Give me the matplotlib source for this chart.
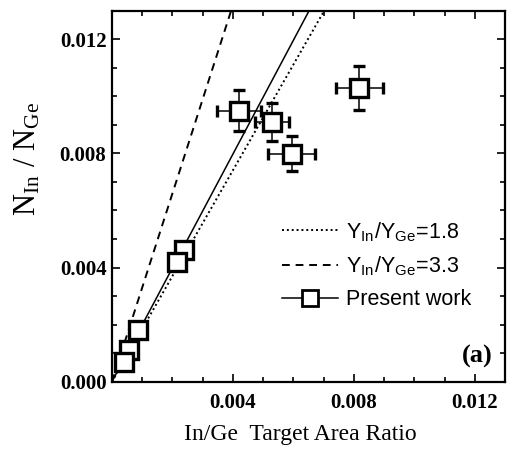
import matplotlib
matplotlib.use("Agg")
import matplotlib.pyplot as plt
from matplotlib.lines import Line2D
from matplotlib.ticker import MultipleLocator, FormatStrFormatter

# ---- data ----
area_ratio = [0.00818, 0.00420, 0.00528, 0.00594, 0.00237, 0.00215, 0.00086, 0.00056, 0.00039]
n_ratio    = [0.01029, 0.00950, 0.00909, 0.00799, 0.00460, 0.00419, 0.00181, 0.00111, 0.00070]
x_err      = [0.00077, 0.00073, 0.00056, 0.00077, 0.00012, 0.00010, 0.0, 0.0, 0.0]
y_err      = [0.00077, 0.00072, 0.00067, 0.00061, 0.00010, 0.00008, 0.0, 0.0, 0.0]

fit_x    = [0.0, 0.00652]
fit_y    = [0.0, 0.0130]
y18_x    = [0.0, 0.00702]
y18_y    = [0.0, 0.0130]
y33_x    = [0.0, 0.00394]
y33_y    = [0.0, 0.0130]

legend_labels = [r'Y$_{\mathregular{In}}$/Y$_{\mathregular{Ge}}$=1.8',
                 r'Y$_{\mathregular{In}}$/Y$_{\mathregular{Ge}}$=3.3',
                 'Present work']

plt.rcParams['mathtext.fontset'] = 'stix'
serif = 'Liberation Serif'
sans = 'Liberation Sans'

fig = plt.figure(figsize=(5.10, 4.51), dpi=100)
ax = fig.add_axes([0.2196, 0.1537, 0.7706, 0.8226])

ax.plot(fit_x, fit_y, color='black', lw=1.1, ls='-')
ax.plot(y18_x, y18_y, color='black', lw=1.4, ls=(0, (1, 1.5)))
ax.plot(y33_x, y33_y, color='black', lw=1.4, ls=(0, (4, 3)))

ax.errorbar(area_ratio, n_ratio, xerr=x_err, yerr=y_err, fmt='s',
            mfc='white', mec='black', mew=2.4, ms=12.5, ecolor='black',
            elinewidth=1.1, capsize=4, capthick=1.1, zorder=5)

ax.set_xlim(0, 0.013)
ax.set_ylim(0, 0.013)
ax.xaxis.set_major_locator(MultipleLocator(0.004))
ax.xaxis.set_minor_locator(MultipleLocator(0.001))
ax.yaxis.set_major_locator(MultipleLocator(0.004))
ax.yaxis.set_minor_locator(MultipleLocator(0.001))
ax.xaxis.set_major_formatter(FormatStrFormatter('%.3f'))
ax.yaxis.set_major_formatter(FormatStrFormatter('%.3f'))
ax.set_xticks([0.004, 0.008, 0.012])
ax.tick_params(which='both', direction='in', top=True, right=True, width=1.2)
ax.tick_params(which='major', length=6, labelsize=15)
ax.tick_params(axis='y', which='major', pad=4)
ax.tick_params(axis='x', which='major', pad=8)
ax.tick_params(which='minor', length=3.5)
for lbl in ax.get_xticklabels() + ax.get_yticklabels():
    lbl.set_family(serif)
    lbl.set_fontweight('bold')
for s in ax.spines.values():
    s.set_linewidth(1.6)

ax.set_xlabel('In/Ge  Target Area Ratio', family=serif, fontsize=17, labelpad=9)
ax.xaxis.set_label_coords(0.48, -0.115)
ax.set_ylabel(r'N$_{\mathregular{In}}$ / N$_{\mathregular{Ge}}$', family=serif, fontsize=22, labelpad=8)
ax.yaxis.set_label_coords(-0.175, 0.60)

ax.text(0.969, 0.069, '(a)', transform=ax.transAxes, family=serif, fontsize=19,
        fontweight='bold', ha='right', va='center')

handles = [Line2D([], [], color='black', lw=1.4, ls=(0, (1, 1.5))),
           Line2D([], [], color='black', lw=1.4, ls=(0, (4, 3))),
           Line2D([], [], color='black', lw=1.1, ls='-', marker='s', ms=11,
                  mfc='white', mec='black', mew=2.0)]
leg = ax.legend(handles, legend_labels, loc='upper left', bbox_to_anchor=(0.41, 0.46),
                frameon=False, prop={'family': sans, 'size': 15.5}, handlelength=2.6,
                handletextpad=0.4, labelspacing=0.55, borderaxespad=0)

fig.savefig('out.png', dpi=100)
